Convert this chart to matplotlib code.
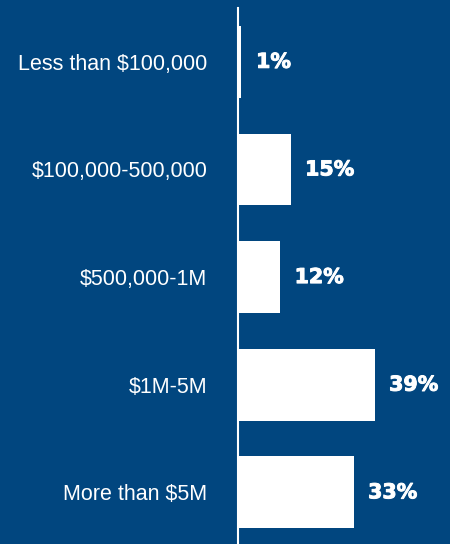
import matplotlib

matplotlib.use("Agg")

import matplotlib.pyplot as plt  # noqa: E402
import matplotlib.patheffects as pe  # noqa: E402

# Share of respondents by size bracket
categories = [
    "Less than $100,000",
    "$100,000-500,000",
    "$500,000-1M",
    "$1M-5M",
    "More than $5M",
]
shares = [1, 15, 12, 39, 33]

BG = "#01467f"
DPI = 100
W_PX, H_PX = 450, 544

fig = plt.figure(figsize=(W_PX / DPI, H_PX / DPI), dpi=DPI, facecolor=BG)

# axes start at the white baseline and run to the right/bottom edge
left_px, top_px = 238, 8
ax = fig.add_axes([left_px / W_PX, 0, 1 - left_px / W_PX, 1 - top_px / H_PX])
ax.set_facecolor(BG)

ypos = list(range(len(categories)))
ax.barh(ypos, shares, height=0.667, color="white", align="center")

# 3.5 px per percentage point
ax.set_xlim(0, (W_PX - left_px) / 3.5)
ax.set_ylim(4.48, -0.50)

# thin stroke makes the bold value labels a little heavier
heavy = [pe.withStroke(linewidth=0.7, foreground="white")]
for y, v in zip(ypos, shares):
    ax.annotate(f"{v}%", xy=(v, y), xytext=(10.5, 0), textcoords="offset points",
                ha="left", va="center", color="white", fontsize=14.8,
                fontweight="bold", family="DejaVu Sans", path_effects=heavy)

ax.set_yticks(ypos)
ax.set_yticklabels(categories, fontsize=15.5, color="white", family="Liberation Sans")
ax.tick_params(axis="y", length=0, pad=22)
ax.set_xticks([])

for side in ("top", "right", "bottom"):
    ax.spines[side].set_visible(False)
ax.spines["left"].set_color("white")
ax.spines["left"].set_linewidth(1.5)

fig.savefig("out.png", dpi=DPI, facecolor=BG)
